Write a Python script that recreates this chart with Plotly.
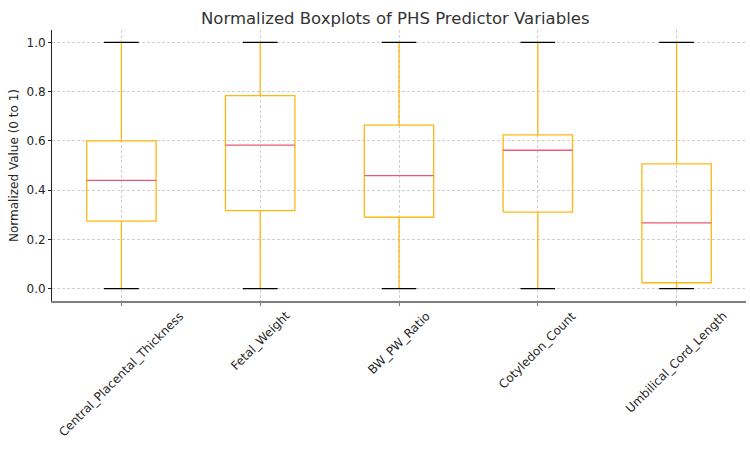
import plotly.graph_objects as go

categories = ["Central_Placental_Thickness", "Fetal_Weight", "BW_PW_Ratio",
              "Cotyledon_Count", "Umbilical_Cord_Length"]
q1 = [0.274, 0.317, 0.290, 0.311, 0.024]
median = [0.440, 0.583, 0.459, 0.562, 0.267]
q3 = [0.600, 0.784, 0.664, 0.624, 0.507]
lower = [0.0, 0.0, 0.0, 0.0, 0.0]
upper = [1.0, 1.0, 1.0, 1.0, 1.0]
y_ticks = [0.0, 0.2, 0.4, 0.6, 0.8, 1.0]

BOX_W = 0.5
CAP_W = 0.25
ORANGE = "#FFB612"
MED = "#EC5A72"
TXT = "#262626"

positions = list(range(1, len(categories) + 1))

bx, by, wx, wy, mx, my, cx, cy = [], [], [], [], [], [], [], []
for p, a, m, b, lo, hi in zip(positions, q1, median, q3, lower, upper):
    l, r = p - BOX_W / 2, p + BOX_W / 2
    bx += [l, r, r, l, l, None]
    by += [a, a, b, b, a, None]
    wx += [p, p, None, p, p, None]
    wy += [lo, a, None, b, hi, None]
    mx += [l, r, None]
    my += [m, m, None]
    cl, cr = p - CAP_W / 2, p + CAP_W / 2
    cx += [cl, cr, None, cl, cr, None]
    cy += [lo, lo, None, hi, hi, None]

fig = go.Figure()
fig.add_trace(go.Scatter(x=wx, y=wy, mode="lines", line=dict(color=ORANGE, width=1.3),
                         hoverinfo="skip", showlegend=False))
fig.add_trace(go.Scatter(x=bx, y=by, mode="lines", line=dict(color=ORANGE, width=1.3),
                         hoverinfo="skip", showlegend=False))
fig.add_trace(go.Scatter(x=mx, y=my, mode="lines", line=dict(color=MED, width=1.3),
                         hoverinfo="skip", showlegend=False))
fig.add_trace(go.Scatter(x=cx, y=cy, mode="lines", line=dict(color="black", width=1.3),
                         hoverinfo="skip", showlegend=False))

# rotated category labels, centred under each tick (matplotlib-style)
for p, name in zip(positions, categories):
    fig.add_annotation(x=p, xref="x", y=0, yref="paper", text=name,
                       textangle=-45, xanchor="center", yanchor="top",
                       yshift=-5, showarrow=False,
                       font=dict(family="DejaVu Sans", size=12, color=TXT))

fig.update_layout(
    width=750, height=450,
    margin=dict(l=51.5, r=3.5, t=30, b=149.3),
    paper_bgcolor="white", plot_bgcolor="white",
    font=dict(family="DejaVu Sans", size=12, color=TXT),
    title=dict(text="Normalized Boxplots of PHS Predictor Variables",
               x=0.527, xref="container", xanchor="center", y=0.96, yanchor="middle",
               font=dict(size=16.5, color="#333333")),
    showlegend=False,
)
fig.update_xaxes(
    range=[0.5, 5.5], tickmode="array", tickvals=positions, showticklabels=False,
    showgrid=True, gridcolor="#d0d0d0", gridwidth=0.8, automargin=False,
    griddash="3px,2px", zeroline=False, showline=True, linecolor="#808080",
    linewidth=2, ticks="outside", ticklen=3, tickcolor="#808080",
)
fig.update_yaxes(
    range=[-0.05, 1.05], tickmode="array", tickvals=y_ticks,
    ticktext=[f"{v:.1f}" for v in y_ticks], automargin=False,
    title=dict(text="Normalized Value (0 to 1)", font=dict(size=12, color=TXT), standoff=5),
    showgrid=True, gridcolor="#d0d0d0", gridwidth=0.8, griddash="3px,2px",
    zeroline=False, showline=True, linecolor="#222222", linewidth=1,
    ticks="outside", ticklen=3, tickcolor="#222222",
    tickfont=dict(size=12, color=TXT),
)

fig.write_html("out.html")
